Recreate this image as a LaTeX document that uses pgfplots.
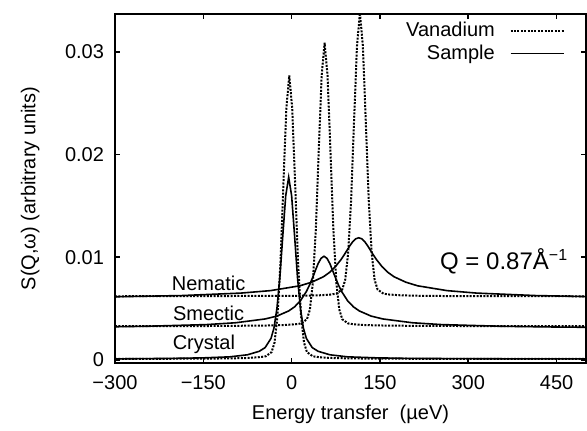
\documentclass[border=0pt]{standalone}
\usepackage{fontspec}
\setmainfont{Liberation Sans}
\usepackage{pgfplots}
\pgfplotsset{compat=1.18}
\tikzset{
  van/.style={black, line width=1pt, dash pattern=on 1pt off 0.7pt},
  smp/.style={black, line width=0.8pt},
}
\begin{document}
\begin{tikzpicture}
\useasboundingbox (-57.5pt,-34pt) rectangle (236pt,181.5pt);
\begin{axis}[
  scale only axis, width=235.5pt, height=174.5pt,
  xmin=-300, xmax=500, ymin=-0.0003, ymax=0.0337,
  scaled y ticks=false,
  axis line style={line width=0.8pt},
  every tick/.style={black, line width=0.8pt},
  tick align=inside, major tick length=2.5pt,
  xtick={-300,-150,0,150,300,450},
  xticklabels={−300,−150,0,150,300,450},
  ytick={0,0.01,0.02,0.03},
  yticklabels={0,0.01,0.02,0.03},
  tick label style={font=\fontsize{10}{12}\selectfont},
  xticklabel style={yshift=-2.5pt},
  yticklabel style={xshift=-2pt},
  xlabel={Energy transfer\ \ (µeV)},
  ylabel={S(Q,ω) (arbitrary units)},
  label style={font=\fontsize{10}{12}\selectfont},
  xlabel style={at={(axis description cs:0.5,-0.146)}, anchor=center},
  ylabel style={at={(axis description cs:-0.18,0.5)}, anchor=center},
  legend plot pos=right,
  legend cell align=right,
  legend image code/.code={\path (0cm,0cm); \draw[#1] (0.19cm,0cm) -- (1.12cm,0cm);},
  legend style={at={(axis description cs:0.968,1.0)}, anchor=north east,
    draw=none, fill=none, font=\fontsize{10}{12}\selectfont, row sep=-1.5pt},
]
% crystal, vanadium
\addplot[van] coordinates {
(-300,0.0001) (-154,0.00012) (-104,0.00015) (-74,0.00019) (-54,0.00027) (-44,0.00035)
(-34,0.00076) (-29,0.0017) (-24,0.0043) (-19,0.0094) (-14,0.0171) (-9,0.0245) (-4,0.0277)
(1,0.0245) (6,0.0171) (11,0.0094) (16,0.0043) (21,0.0017) (26,0.00076) (36,0.00035)
(46,0.00027) (66,0.00019) (96,0.00015) (146,0.00012) (300,0.0001) (500,0.0001)
};
\addlegendentry{Vanadium}
% crystal, sample
\addplot[smp] coordinates {
(-300,0.0001) (-200,0.00015) (-150,0.0002) (-105,0.0003) (-75,0.0005) (-55,0.00084)
(-45,0.0012) (-35,0.0021) (-30,0.0031) (-25,0.0050) (-20,0.0080) (-15,0.0121) (-10,0.0160)
(-5,0.0178) (0,0.0160) (5,0.0121) (10,0.0080) (15,0.0050) (20,0.0031) (25,0.0021)
(35,0.0012) (45,0.00084) (65,0.0005) (95,0.0003) (145,0.0002) (195,0.00015)
(300,0.00012) (400,0.0001) (500,0.0001)
};
\addlegendentry{Sample}
% smectic, vanadium
\addplot[van, forget plot] coordinates {
(-300,0.0033) (-150,0.0033) (-100,0.00332) (-44,0.00335) (-14,0.00339) (6,0.00347)
(16,0.00355) (26,0.00396) (31,0.0049) (36,0.0075) (41,0.0126) (46,0.0203) (51,0.0277)
(56,0.0309) (61,0.0277) (66,0.0203) (71,0.0126) (76,0.0075) (81,0.0049) (86,0.00396)
(96,0.00355) (106,0.00347) (126,0.00339) (156,0.00335) (206,0.00332) (300,0.0033) (500,0.0033)
};
% smectic, sample
\addplot[smp, forget plot] coordinates {
(-300,0.00323) (-245,0.00328) (-145,0.00344) (-95,0.00362) (-45,0.00399) (-25,0.00427)
(-5,0.00477) (5,0.00517) (15,0.00577) (25,0.00666) (30,0.00724) (35,0.00793) (40,0.00866)
(45,0.00938) (50,0.0099) (55,0.0101) (60,0.0099) (65,0.00938) (70,0.00866) (75,0.00793)
(80,0.00724) (85,0.00666) (95,0.00577) (105,0.00517) (115,0.00477) (135,0.00427)
(155,0.00399) (205,0.00362) (255,0.00344) (355,0.00328) (455,0.0032) (500,0.00318)
};
% nematic, vanadium
\addplot[van, forget plot] coordinates {
(-300,0.0062) (0,0.00624) (16,0.00625) (46,0.00629) (66,0.00637) (76,0.00645)
(86,0.00686) (91,0.0078) (96,0.0104) (101,0.0155) (106,0.0232) (111,0.0306) (116,0.0338)
(121,0.0306) (126,0.0232) (131,0.0155) (136,0.0104) (141,0.0078) (146,0.00686)
(156,0.00645) (166,0.00637) (186,0.00629) (216,0.00625) (266,0.00622) (500,0.0062)
};
% nematic, sample
\addplot[smp, forget plot] coordinates {
(-300,0.00615) (-186,0.00627) (-86,0.00651) (-36,0.00675) (14,0.00722) (34,0.00757)
(54,0.0081) (64,0.00851) (74,0.00906) (84,0.00978) (89,0.01021) (94,0.01067) (99,0.01113)
(104,0.01153) (109,0.0118) (114,0.0119) (119,0.0118) (124,0.01153) (129,0.01113)
(134,0.01067) (139,0.01021) (144,0.00978) (154,0.00906) (164,0.00851) (174,0.0081)
(194,0.00757) (214,0.00722) (264,0.00675) (314,0.00651) (414,0.00627) (500,0.00617)
};
\node[font=\fontsize{10}{12}\selectfont] at (axis cs:-141,0.0075) {Nematic};
\node[font=\fontsize{10}{12}\selectfont] at (axis cs:-141,0.0045) {Smectic};
\node[font=\fontsize{10}{12}\selectfont] at (axis cs:-149,0.0015) {Crystal};
\node[font=\fontsize{12}{14}\selectfont] at (axis cs:361,0.0096) {Q = 0.87Å\textsuperscript{−1}};
\end{axis}
\end{tikzpicture}
\end{document}
